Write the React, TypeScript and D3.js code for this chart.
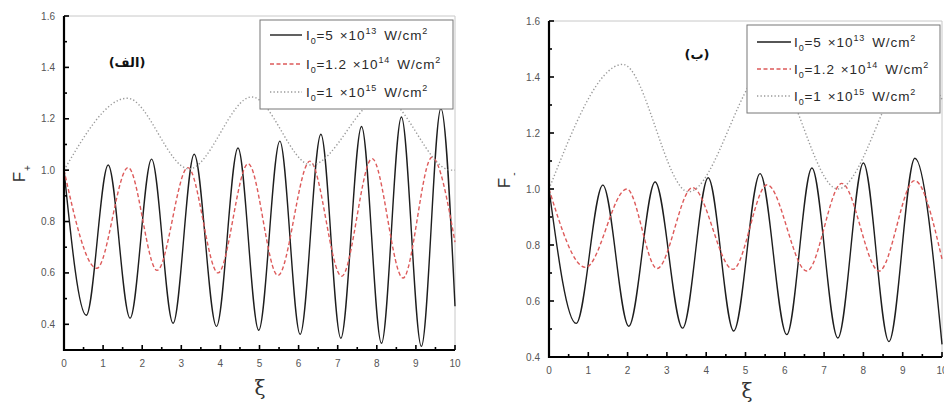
import React from 'react';
import * as d3 from 'd3';

type Pt = [number, number];

// panel (الف) : F+ against xi (extrema + ends)
const plusSolid: Pt[] = [
  [0, 1.0], [0.57, 0.435], [1.13, 1.02], [1.69, 0.424], [2.24, 1.043], [2.79, 0.404],
  [3.33, 1.062], [3.9, 0.392], [4.45, 1.086], [4.98, 0.377], [5.52, 1.113], [6.04, 0.361],
  [6.57, 1.14], [7.08, 0.346], [7.61, 1.17], [8.12, 0.326], [8.63, 1.207], [9.14, 0.314],
  [9.64, 1.24], [10, 0.47],
];
const plusDashed: Pt[] = [
  [0, 1.0], [0.84, 0.618], [1.64, 1.01], [2.38, 0.61], [3.17, 1.01], [3.94, 0.6],
  [4.71, 1.025], [5.47, 0.59], [6.29, 1.035], [7.1, 0.587], [7.88, 1.045], [8.67, 0.58],
  [9.41, 1.05], [10, 0.72],
];
const plusDotted: Pt[] = [
  [0, 1.0], [1.62, 1.28], [3.2, 1.005], [4.8, 1.285], [6.32, 1.02], [8.15, 1.285],
  [9.9, 1.0], [10, 1.0],
];

// panel (ب) : F- against xi
const minusSolid: Pt[] = [
  [0, 1.0], [0.69, 0.52], [1.37, 1.014], [2.03, 0.51], [2.7, 1.025], [3.4, 0.503],
  [4.05, 1.04], [4.7, 0.493], [5.37, 1.055], [6.05, 0.48], [6.69, 1.075], [7.35, 0.468],
  [8.0, 1.093], [8.65, 0.455], [9.31, 1.11], [10, 0.445],
];
const minusDashed: Pt[] = [
  [0, 1.0], [0.93, 0.72], [1.98, 1.0], [2.75, 0.716], [3.65, 1.005], [4.68, 0.713],
  [5.55, 1.015], [6.56, 0.707], [7.45, 1.02], [8.4, 0.707], [9.3, 1.03], [10, 0.75],
];
const minusDotted: Pt[] = [
  [0, 1.0], [1.88, 1.445], [3.55, 0.99], [5.6, 1.44], [7.35, 1.0], [9.3, 1.44], [10, 1.32],
];

const mantissas = ['5', '1.2', '1'];
const exponents = ['13', '14', '15'];
const xTickLabels = [0, 1, 2, 3, 4, 5, 6, 7, 8, 9, 10];
const yTickLabels = [0.4, 0.6, 0.8, 1.0, 1.2, 1.4, 1.6];

const styles = [
  { stroke: '#1e1e1e', dash: undefined, width: 1.4 },
  { stroke: '#dd5a5a', dash: '4 2.5', width: 1.4 },
  { stroke: '#999', dash: '1.3 2.2', width: 1.4 },
];

const tickFont = 'Liberation Sans, Arial, sans-serif';

function Panel({ cfg }: { cfg: any }) {
  const x = d3.scaleLinear().domain([0, 10]).range([cfg.left, cfg.right]);
  const y = d3.scaleLinear().domain(cfg.yDomain).range([cfg.bottom, cfg.top]);
  const line = d3.line<Pt>().x(d => x(d[0])).y(d => y(d[1])).curve(d3.curveMonotoneX);

  const yMinor = d3.range(Math.round(cfg.yDomain[0] * 10), Math.round(cfg.yDomain[1] * 10) + 1)
    .map(v => v / 10)
    .filter(v => Math.round(v * 10) % 2 === 1);
  const xMinor = d3.range(0.5, 10, 1);
  const lg = cfg.legend;

  return (
    <g>
      {/* frame top/right */}
      <path d={`M${cfg.left},${cfg.top}H${cfg.right}V${cfg.bottom}`} fill="none" stroke="#c8c8c8" strokeWidth={1} />

      {cfg.series.map((s: Pt[], i: number) => (
        <path key={i} d={line(s) || ''} fill="none" stroke={styles[i].stroke}
          strokeWidth={styles[i].width} strokeDasharray={styles[i].dash} />
      ))}

      {/* legend */}
      <rect x={lg.x} y={lg.y} width={lg.w} height={lg.h} fill="#fff" stroke="#777" strokeWidth={1} />
      {mantissas.map((m, i) => {
        const ry = lg.rows[i];
        return (
          <g key={i}>
            <line x1={lg.sx0} x2={lg.sx1} y1={ry} y2={ry} stroke={styles[i].stroke}
              strokeWidth={styles[i].width} strokeDasharray={styles[i].dash} />
            <text x={lg.tx} y={ry + 4.5} fontFamily={tickFont} fontSize={13.5} fill="#2a2a2a"
              letterSpacing={0.9}>
              I<tspan fontSize={9} dy={4}>0</tspan>
              <tspan dy={-4}>={m}</tspan>
              <tspan dx={6}>×10</tspan>
              <tspan fontSize={9} dy={-6}>{exponents[i]}</tspan>
              <tspan dy={6} dx={7}>W/cm</tspan>
              <tspan fontSize={9} dy={-6}>2</tspan>
            </text>
          </g>
        );
      })}

      {/* panel tag */}
      <text x={cfg.tag[0]} y={cfg.tag[1]} fontFamily="DejaVu Sans, sans-serif" fontWeight="bold"
        fontSize={13} textAnchor="middle" direction="rtl" fill="#111">{cfg.tagText}</text>

      {/* y axis */}
      {yTickLabels.map(v => (
        <g key={v}>
          <line x1={cfg.left} x2={cfg.left + 5} y1={y(v)} y2={y(v)} stroke="#000" strokeWidth={1.6} />
          <text x={cfg.left - 9} y={y(v) + 3.5} textAnchor="end" fontFamily={tickFont}
            fontSize={10} fill="#555">{v.toFixed(1)}</text>
        </g>
      ))}
      {yMinor.map(v => (
        <line key={v} x1={cfg.left} x2={cfg.left + 3} y1={y(v)} y2={y(v)} stroke="#000" strokeWidth={1.6} />
      ))}

      {/* x axis */}
      {xTickLabels.map(v => (
        <g key={v}>
          <line x1={x(v)} x2={x(v)} y1={cfg.bottom} y2={cfg.bottom - 5} stroke="#000" strokeWidth={1.6} />
          <text x={x(v)} y={cfg.bottom + 17} textAnchor="middle" fontFamily={tickFont}
            fontSize={10} fill="#555">{v}</text>
        </g>
      ))}
      {xMinor.map(v => (
        <line key={v} x1={x(v)} x2={x(v)} y1={cfg.bottom} y2={cfg.bottom - 3} stroke="#000" strokeWidth={1.6} />
      ))}

      <line x1={cfg.left} x2={cfg.left} y1={cfg.top} y2={cfg.bottom + 1} stroke="#000" strokeWidth={2.2} />
      <line x1={cfg.left - 1} x2={cfg.right} y1={cfg.bottom} y2={cfg.bottom} stroke="#000" strokeWidth={2.2} />

      {/* axis titles */}
      <text x={cfg.xi[0]} y={cfg.xi[1]} textAnchor="middle" fontFamily="DejaVu Serif, serif"
        fontSize={20} fill="#333">ξ</text>
      <text transform={`translate(${cfg.fy[0]},${cfg.fy[1]}) rotate(-90)`} textAnchor="middle"
        fontFamily={tickFont} fontSize={17} fill="#333">F</text>
      <text transform={`translate(${cfg.fs[0]},${cfg.fs[1]}) rotate(-90)`} textAnchor="middle"
        fontFamily={tickFont} fontSize={10} fill="#333">{cfg.sign}</text>
    </g>
  );
}

const leftCfg = {
  left: 64, right: 455, top: 16, bottom: 350, yDomain: [0.3, 1.6],
  series: [plusSolid, plusDashed, plusDotted],
  legend: { x: 260, y: 20, w: 193, h: 89, rows: [35, 64, 92], sx0: 270, sx1: 302, tx: 306 },
  tag: [127, 67], tagText: '(الف)', xi: [260, 395], fy: [25, 177], fs: [31, 168], sign: '+',
};

const rightCfg = {
  left: 549, right: 942, top: 21, bottom: 357, yDomain: [0.4, 1.6],
  series: [minusSolid, minusDashed, minusDotted],
  legend: { x: 747, y: 25, w: 193, h: 88, rows: [42, 69, 96], sx0: 757, sx1: 791, tx: 794 },
  tag: [697, 59], tagText: '(ب)', xi: [747, 398], fy: [510, 183], fs: [517, 174], sign: '-',
};

export default function App() {
  return (
    <svg width={944} height={406} style={{ position: 'absolute', left: 0, top: 0, background: '#fff' }}>
      <rect width={944} height={406} fill="#fff" />
      <Panel cfg={leftCfg} />
      <Panel cfg={rightCfg} />
    </svg>
  );
}
